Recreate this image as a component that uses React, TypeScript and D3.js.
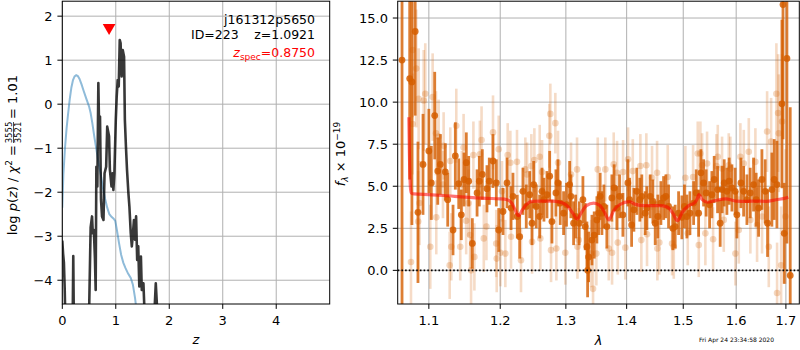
import React from 'react';
import * as d3 from 'd3';

// ---------- left panel: p(z) ----------
const blueZ = [0, 0.02, 0.05, 0.08, 0.11, 0.14, 0.17, 0.2, 0.23, 0.26, 0.29, 0.32, 0.36, 0.4, 0.45, 0.5, 0.53, 0.56, 0.6, 0.64, 0.68, 0.72, 0.76, 0.8, 0.84, 0.88, 0.92, 0.96, 0.99, 1.02, 1.06, 1.1, 1.14, 1.18, 1.23, 1.28, 1.32, 1.36, 1.4];
const blueLogP = [-2.35, -1.6, -1.0, -0.55, -0.2, 0.12, 0.38, 0.55, 0.63, 0.66, 0.64, 0.58, 0.45, 0.3, 0.12, -0.05, -0.2, -0.42, -0.75, -1.05, -1.35, -1.6, -1.9, -2.15, -2.35, -2.5, -2.56, -2.6, -2.65, -2.85, -3.15, -3.42, -3.6, -3.72, -3.85, -3.95, -4.1, -4.4, -4.8];

const blackZ = [0.0, 0.015, 0.03, 0.045, 0.055, 0.195, 0.205, 0.215, 0.5, 0.53, 0.556, 0.57, 0.59, 0.61, 0.624, 0.637, 0.655, 0.674, 0.69, 0.705, 0.724, 0.743, 0.77, 0.79, 0.82, 0.84, 0.874, 0.89, 0.92, 0.94, 0.955, 0.974, 1.0, 1.017, 1.036, 1.055, 1.074, 1.09, 1.11, 1.13, 1.155, 1.17, 1.19, 1.21, 1.236, 1.255, 1.28, 1.3, 1.317, 1.34, 1.36, 1.38, 1.4, 1.42, 1.44, 1.47, 1.486, 1.517, 1.54, 1.72, 1.748, 1.78];
const blackLogP = [-3.1, -3.4, -3.6, -4.2, -4.8, -4.8, -3.45, -4.8, -4.8, -2.8, -2.55, -2.93, -2.86, -3.5, -4.22, -1.42, -1.87, 0.48, -0.66, -0.28, -2.17, -2.55, -2.63, -1.57, -1.42, -0.51, -0.73, -1.49, -1.87, -1.57, -1.95, -1.57, -0.36, 0.17, 0.55, 0.4, 1.46, 1.39, 0.63, 1.23, 1.08, -0.36, -0.96, -1.49, -2.02, -2.33, -2.93, -3.23, -3.0, -2.63, -3.08, -2.55, -3.54, -3.23, -4.14, -3.46, -4.22, -4.07, -4.8, -4.8, -4.07, -4.8];

const zTicks = [0, 1, 2, 3, 4];
const logpTicks = [-4, -3, -2, -1, 0, 1, 2];
const zSpec = 0.875;
const zSpecMarker = 1.74;

// ---------- right panel: spectrum ----------
const darkWave = [1.0646, 1.0746, 1.0775, 1.0818, 1.0855, 1.0922, 1.1000, 1.1033, 1.1079, 1.1120, 1.1155, 1.1223, 1.1256, 1.1329, 1.1361, 1.1408, 1.1444, 1.1482, 1.1514, 1.1548, 1.1599, 1.1666, 1.1698, 1.1741, 1.1808, 1.1841, 1.1894, 1.1943, 1.1978,
  1.2041, 1.2100, 1.2159, 1.2188, 1.2252, 1.2288, 1.2337, 1.2387, 1.2439, 1.2474, 1.2500, 1.2539, 1.2591, 1.2627, 1.2657, 1.2704, 1.2746, 1.2781, 1.2843, 1.2875, 1.2911, 1.2964, 1.3010, 1.3060, 1.3080, 1.3123, 1.3156, 1.3213, 1.3273, 1.3310, 1.3338, 1.3349, 1.3365, 1.3420, 1.3457, 1.3501, 1.3529, 1.3555,
  1.3584, 1.3617, 1.3666, 1.3750, 1.3788, 1.3834, 1.3879, 1.3936, 1.4021, 1.4050, 1.4085, 1.4124, 1.4175, 1.4227, 1.4261, 1.4320, 1.4349, 1.4407, 1.4455, 1.4496, 1.4543, 1.4597, 1.4645, 1.4686, 1.4734, 1.4811, 1.4853, 1.4915, 1.4975, 1.5022, 1.5067, 1.5123, 1.5191, 1.5239,
  1.5284, 1.5327, 1.5377, 1.5425, 1.5490, 1.5533, 1.5577, 1.5641, 1.5691, 1.5730, 1.5768, 1.5820, 1.5864, 1.5917, 1.5980, 1.6014, 1.6093, 1.6146, 1.6211, 1.6276, 1.6343, 1.6395, 1.6443, 1.6510, 1.6576, 1.6624, 1.6712, 1.6759, 1.6815, 1.6918, 1.6940, 1.6965, 1.7021, 1.7090];
const darkFlux = [12.5, 11.4, 11.2, 14.2, 3.45, 6.3, 7.1, 5.2, 9.2, 5.9, 6.3, 5.85, 4.2, 2.4, 6.8, 5.15, 3.3, 5.4, 6.4, 5.3, 1.6, 4.6, 5.3, 5.7, 4.85, 5.3, 6.5, 5.2, 2.4,
  3.5, 5.2, 3.7, 4.4, 3.2, 2.0, 4.7, 3.8, 4.5, 2.8, 5.1, 3.8, 3.2, 4.7, 4.2, 4.5, 5.6, 2.9, 4.6, 5.2, 4.0, 3.4, 3.9, 5.1, 4.4, 2.8, 3.2, 2.8, 4.2, 2.6, 1.4, 0.0, 0.8, 1.8, 2.1, 3.0, 3.4, 4.4,
  3.4, 3.8, 2.6, 4.3, 4.9, 3.7, 4.4, 3.3, 5.2, 4.2, 2.7, 3.6, 4.7, 4.2, 4.4, 3.4, 3.7, 4.4, 4.1, 2.8, 3.2, 4.0, 4.3, 4.4, 3.8, 2.5, 2.6, 3.4, 3.15, 3.8, 3.2, 3.4, 4.0, 4.6,
  3.4, 5.8, 5.2, 4.6, 3.9, 4.5, 5.4, 4.8, 2.8, 4.8, 5.2, 4.7, 5.3, 4.9, 4.7, 3.3, 5.2, 4.7, 4.2, 4.6, 5.1, 4.2, 3.7, 5.4, 4.7, 2.8, 4.8, 5.4, 5.1, 9.9, 15.8, 2.2, 12.6, -0.3];
const darkErr = [16, 6, 8.5, 5, 4.2, 3.0, 2.5, 2.2, 2.6, 2.0, 1.8, 1.7, 1.6, 1.5, 2.0, 1.5, 1.5, 1.6, 1.8, 1.5, 1.5, 1.4, 1.5, 1.5, 1.4, 1.4, 1.6, 1.4, 1.3,
  1.4, 1.5, 1.3, 1.4, 1.3, 1.3, 1.4, 1.3, 1.4, 1.3, 1.4, 1.3, 1.3, 1.4, 1.3, 1.4, 1.5, 1.3, 1.4, 1.4, 1.3, 1.3, 1.3, 1.4, 1.3, 1.3, 1.3, 1.3, 1.4, 1.4, 1.5, 1.6, 1.5, 1.5, 1.4, 1.4, 1.3, 1.4,
  1.3, 1.3, 1.3, 1.4, 1.4, 1.3, 1.3, 1.3, 1.4, 1.3, 1.3, 1.3, 1.4, 1.3, 1.3, 1.3, 1.3, 1.3, 1.3, 1.3, 1.3, 1.3, 1.3, 1.3, 1.3, 1.3, 1.3, 1.3, 1.3, 1.3, 1.3, 1.3, 1.3, 1.4,
  1.4, 1.4, 1.4, 1.4, 1.4, 1.4, 1.4, 1.4, 1.4, 1.4, 1.4, 1.4, 1.4, 1.4, 1.4, 1.4, 1.5, 1.5, 1.5, 1.5, 1.6, 1.6, 1.7, 1.8, 1.9, 2.0, 2.2, 2.4, 2.6, 5.0, 8.0, 3.0, 11.0, 10.0];

const lightWave = [1.0763, 1.0783, 1.0786, 1.0832, 1.0858, 1.0864, 1.0875, 1.0931, 1.0952, 1.1019, 1.1051, 1.1096, 1.1100, 1.1132, 1.1191, 1.1200, 1.1283, 1.1291, 1.1305, 1.1374, 1.1429, 1.1452, 1.1476, 1.1512, 1.1545, 1.1567, 1.1581, 1.1614, 1.1628, 1.1706, 1.1730, 1.1762, 1.1800, 1.1895, 1.1942, 1.1949,
  1.1978, 1.2002, 1.2026, 1.2075, 1.2110, 1.2149, 1.2159, 1.2248, 1.2308, 1.2373, 1.2399, 1.2464, 1.2475, 1.2510, 1.2592, 1.2601, 1.2628, 1.2740, 1.2756, 1.2767, 1.2834, 1.2850, 1.2876, 1.2991, 1.3082, 1.3178, 1.3185, 1.3205, 1.3405, 1.3438, 1.3492, 1.3515,
  1.3641, 1.3698, 1.3753, 1.3781, 1.3837, 1.3849, 1.3939, 1.3978, 1.4024, 1.4105, 1.4236, 1.4253, 1.4340, 1.4352, 1.4440, 1.4529, 1.4534, 1.4569, 1.4719, 1.4797, 1.4828, 1.5039, 1.5083, 1.5181, 1.5268, 1.5287,
  1.5317, 1.5349, 1.5410, 1.5442, 1.5556, 1.5619, 1.5645, 1.5727, 1.5760, 1.5856, 1.5887, 1.5985, 1.6051, 1.6082, 1.6149, 1.6248, 1.6279, 1.6379, 1.6413, 1.6513, 1.6615, 1.6649, 1.6696, 1.6804, 1.6818, 1.6839, 1.6853, 1.6901, 1.6921, 1.6990];
const lightFlux = [0.5, 8.7, 13.1, 12.0, 2.9, 10.2, 4.0, 10.1, 10.5, 1.4, 10.3, 8.15, 3.15, 7.95, 5.1, 7.4, 0.3, 6.5, 1.4, 8.6, 1.4, 5.1, 7.3, 2.95, 4.0, 2.1, 0.0, 6.85, 0.8, 6.9, 7.75, 1.9, 2.6, 8.2, 1.6, 0.7,
  7.2, 1.05, 4.7, 1.0, 6.85, 6.4, 2.0, 6.45, 0.6, 6.0, 5.7, 6.2, 1.7, 6.55, 6.75, 1.9, 5.85, 8.0, 9.3, 1.2, 8.75, 1.3, 6.4, 1.05, 5.7, 6.0, 1.4, 1.8, 1.0, -1.1, 1.0, 6.0,
  6.0, 1.3, 1.05, 6.3, 5.8, 1.65, 5.85, 1.35, 6.6, 5.9, 6.2, 1.8, 6.25, 2.15, 5.5, 5.8, 1.3, 1.65, 5.55, 1.6, 1.4, 5.5, 2.2, 5.55, 6.95, 1.5,
  6.95, 6.25, 2.2, 6.35, 1.85, 6.2, 6.75, 6.05, 3.0, 6.25, 6.05, 1.0, 2.4, 6.75, 6.35, 7.05, 3.0, 6.45, 2.7, 3.2, 8.25, 1.4, 7.65, 10.5, -1.35, 9.35, 8.15, 0.3, 8.85, 3.2];
const lightErr = [3.0, 3.0, 4.0, 3.5, 3.0, 3.0, 2.5, 3.0, 3.0, 2.5, 2.6, 2.5, 2.2, 2.2, 2.0, 2.0, 2.0, 2.0, 2.0, 2.2, 2.0, 2.0, 2.0, 2.0, 2.0, 2.0, 2.0, 2.0, 2.0, 2.0, 2.0, 2.0, 2.0, 2.2, 2.0, 2.0,
  2.0, 2.0, 1.8, 2.0, 1.9, 1.9, 1.9, 1.9, 1.9, 1.9, 1.9, 1.9, 1.9, 1.9, 1.9, 1.9, 1.9, 1.9, 1.8, 1.9, 1.8, 1.9, 1.9, 1.9, 1.9, 1.9, 1.9, 1.9, 2.0, 1.9, 1.9, 1.9,
  1.9, 1.9, 1.9, 1.9, 1.9, 1.9, 1.9, 1.9, 1.9, 1.9, 1.9, 1.9, 1.9, 1.9, 1.9, 1.9, 1.9, 1.9, 1.9, 1.9, 1.9, 1.9, 1.9, 1.9, 1.9, 1.9,
  1.9, 1.9, 1.9, 1.9, 1.9, 1.9, 1.9, 1.9, 1.9, 1.9, 1.9, 1.9, 2.0, 2.0, 2.0, 2.0, 2.0, 2.0, 2.2, 2.2, 2.4, 2.4, 2.6, 3.0, 3.0, 3.5, 3.5, 3.5, 4.0, 4.0];

const modelWave = [1.0735, 1.0742, 1.0756, 1.0766, 1.08, 1.10, 1.12, 1.15, 1.18, 1.20, 1.21, 1.217, 1.222, 1.227, 1.233, 1.24, 1.248, 1.26, 1.28, 1.295, 1.303, 1.311, 1.318, 1.325, 1.333, 1.345, 1.355, 1.362, 1.37, 1.378, 1.388, 1.405, 1.415, 1.43, 1.46, 1.472, 1.481, 1.4895, 1.498, 1.51, 1.52, 1.525, 1.529, 1.535, 1.545, 1.56, 1.58, 1.60, 1.62, 1.64, 1.66, 1.68, 1.70, 1.705];
const modelFlux = [9.1, 7.0, 4.9, 4.6, 4.55, 4.5, 4.45, 4.35, 4.28, 4.25, 4.2, 4.0, 3.6, 3.25, 3.6, 3.95, 4.1, 4.12, 4.12, 4.0, 3.8, 3.4, 3.05, 3.45, 3.85, 4.0, 3.85, 3.5, 3.0, 3.55, 3.9, 4.08, 3.92, 3.85, 3.85, 3.75, 3.4, 2.95, 3.45, 3.85, 4.0, 4.2, 4.5, 4.2, 4.05, 4.15, 4.25, 4.12, 4.1, 4.12, 4.1, 4.2, 4.3, 4.35];

const waveTicks = [1.1, 1.2, 1.3, 1.4, 1.5, 1.6, 1.7];
const fluxTicks = [0, 2.5, 5, 7.5, 10, 12.5, 15];

const FONT = 'DejaVu Sans, sans-serif';
const GRID = '#b0b0b0';
const G141 = '#d55e00';
const minus = (s: string) => s.replace('-', '\u2212');

export default function App() {
  const L = { x0: 62.3, x1: 329.7, y0: 1.2, y1: 304 };
  const R = { x0: 397.7, x1: 799.3, y0: 1.2, y1: 304 };
  const zx = d3.scaleLinear().domain([0, 5]).range([L.x0, L.x1]);
  const ly = d3.scaleLinear().domain([-4.54, 2.34]).range([L.y1, L.y0]);
  const wx = d3.scaleLog().domain([1.059, 1.728]).range([R.x0, R.x1]);
  const fy = d3.scaleLinear().domain([-2, 16]).range([R.y1, R.y0]);

  const blueLine = d3.line<number>().x((_, i) => zx(blueZ[i])).y((d) => ly(d))(blueLogP) || '';
  const blackLine = d3.line<number>().x((_, i) => zx(blackZ[i])).y((d) => ly(d))(blackLogP) || '';
  const modelLine = d3.line<number>().x((_, i) => wx(modelWave[i])).y((d) => fy(d)).curve(d3.curveMonotoneX)(modelFlux) || '';
  const tri = d3.symbol().type(d3.symbolTriangle).size(70)() || '';

  const tickLen = 4.9;
  const tickFs = 13;

  return (
    <svg width={800} height={350} style={{ position: 'absolute', left: 0, top: 0, background: '#fff' }} fontFamily={FONT}>
      <defs>
        <clipPath id="clipL"><rect x={L.x0} y={L.y0} width={L.x1 - L.x0} height={L.y1 - L.y0} /></clipPath>
        <clipPath id="clipR"><rect x={R.x0} y={R.y0} width={R.x1 - R.x0} height={R.y1 - R.y0} /></clipPath>
      </defs>
      <rect x={0} y={0} width={800} height={350} fill="#fff" />

      {/* ---------- LEFT PANEL ---------- */}
      <g>
        {zTicks.map((t) => (
          <line key={'gzx' + t} x1={zx(t)} x2={zx(t)} y1={L.y0} y2={L.y1} stroke={GRID} strokeWidth={1} />
        ))}
        {logpTicks.map((t) => (
          <line key={'gly' + t} x1={L.x0} x2={L.x1} y1={ly(t)} y2={ly(t)} stroke={GRID} strokeWidth={1} />
        ))}
        <g clipPath="url(#clipL)">
          <path d={blueLine} fill="none" stroke="#1f77b4" strokeOpacity={0.5} strokeWidth={2} />
          <path d={blackLine} fill="none" stroke="#000" strokeOpacity={0.78} strokeWidth={2.6} strokeLinejoin="round" />
        </g>
        <path d={tri} transform={`translate(${zx(zSpec)},${ly(zSpecMarker)}) rotate(180)`} fill="red" />
        <rect x={L.x0} y={L.y0} width={L.x1 - L.x0} height={L.y1 - L.y0} fill="none" stroke="#000" strokeWidth={1} />
        {zTicks.map((t) => (
          <g key={'tzx' + t}>
            <line x1={zx(t)} x2={zx(t)} y1={L.y1} y2={L.y1 + tickLen} stroke="#000" />
            <text x={zx(t)} y={L.y1 + 21} fontSize={tickFs} textAnchor="middle">{t}</text>
          </g>
        ))}
        {logpTicks.map((t) => (
          <g key={'tly' + t}>
            <line x1={L.x0 - tickLen} x2={L.x0} y1={ly(t)} y2={ly(t)} stroke="#000" />
            <text x={L.x0 - 9.7} y={ly(t) + 4.7} fontSize={tickFs} textAnchor="end">{minus(String(t))}</text>
          </g>
        ))}
        <text x={(L.x0 + L.x1) / 2} y={344} fontSize={tickFs} textAnchor="middle" fontStyle="italic">z</text>
        <g transform="translate(16.5,154) rotate(-90)" fontSize={tickFs}>
          <text x={9} y={0} textAnchor="end">
            log <tspan fontStyle="italic">p</tspan>(<tspan fontStyle="italic">z</tspan>) / <tspan fontStyle="italic">χ</tspan>
            <tspan fontSize={9} dy={-5}>2</tspan><tspan dy={5}> =</tspan>
          </text>
          <text x={21.5} y={-4.2} fontSize={8.5} textAnchor="middle">3555</text>
          <line x1={11} x2={32} y1={-3} y2={-3} stroke="#000" strokeWidth={0.7} />
          <text x={21.5} y={4.6} fontSize={8.5} textAnchor="middle">3521</text>
          <text x={35} y={0} textAnchor="start">= 1.01</text>
        </g>
        <text x={315} y={24} fontSize={12.5} textAnchor="end">j161312p5650</text>
        <text x={191} y={38.5} fontSize={12.5} textAnchor="start">ID=223</text>
        <text x={315} y={38.5} fontSize={12.5} textAnchor="end">z=1.0921</text>
        <text x={315} y={57} fontSize={12.5} textAnchor="end" fill="red">
          <tspan fontStyle="italic">z</tspan><tspan fontSize={9} dy={2.5}>spec</tspan><tspan dy={-2.5}>=0.8750</tspan>
        </text>
      </g>

      {/* ---------- RIGHT PANEL ---------- */}
      <g>
        {waveTicks.map((t) => (
          <line key={'gwx' + t} x1={wx(t)} x2={wx(t)} y1={R.y0} y2={R.y1} stroke={GRID} strokeWidth={1} />
        ))}
        {fluxTicks.map((t) => (
          <line key={'gfy' + t} x1={R.x0} x2={R.x1} y1={fy(t)} y2={fy(t)} stroke={GRID} strokeWidth={1} />
        ))}
        <g clipPath="url(#clipR)">
          {lightWave.map((w, i) => (
            <line key={'lt' + i} x1={wx(w)} x2={wx(w)} y1={fy(lightFlux[i] - lightErr[i])} y2={fy(lightFlux[i] + lightErr[i])} stroke={G141} strokeWidth={2.6} opacity={0.22} />
          ))}
          {lightWave.map((w, i) => (
            <circle key={'lc' + i} cx={wx(w)} cy={fy(lightFlux[i])} r={3.3} fill={G141} opacity={0.25} />
          ))}
          {darkWave.map((w, i) => (
            <line key={'dt' + i} x1={wx(w)} x2={wx(w)} y1={fy(darkFlux[i] - darkErr[i])} y2={fy(darkFlux[i] + darkErr[i])} stroke={G141} strokeWidth={2.8} opacity={0.8} />
          ))}
          {darkWave.map((w, i) => (
            <circle key={'dc' + i} cx={wx(w)} cy={fy(darkFlux[i])} r={3.4} fill={G141} opacity={0.85} />
          ))}
          <path d={modelLine} fill="none" stroke="red" strokeOpacity={0.55} strokeWidth={3.2} strokeLinejoin="round" />
          <line x1={R.x0} x2={R.x1} y1={fy(0)} y2={fy(0)} stroke="#000" strokeWidth={1.6} strokeDasharray="1.6 2.1" />
        </g>
        <rect x={R.x0} y={R.y0} width={R.x1 - R.x0} height={R.y1 - R.y0} fill="none" stroke="#000" strokeWidth={1} />
        {waveTicks.map((t) => (
          <g key={'twx' + t}>
            <line x1={wx(t)} x2={wx(t)} y1={R.y1} y2={R.y1 + tickLen} stroke="#000" />
            <text x={wx(t)} y={R.y1 + 21} fontSize={tickFs} textAnchor="middle">{t.toFixed(1)}</text>
          </g>
        ))}
        {fluxTicks.map((t) => (
          <g key={'tfy' + t}>
            <line x1={R.x0 - tickLen} x2={R.x0} y1={fy(t)} y2={fy(t)} stroke="#000" />
            <text x={R.x0 - 9.7} y={fy(t) + 4.7} fontSize={tickFs} textAnchor="end">{t.toFixed(1)}</text>
          </g>
        ))}
        <text x={(R.x0 + R.x1) / 2} y={345} fontSize={tickFs} textAnchor="middle" fontStyle="italic">λ</text>
        <g transform="translate(345,154) rotate(-90)" fontSize={tickFs}>
          <text x={0} y={0} textAnchor="middle">
            <tspan fontStyle="italic">f</tspan><tspan fontSize={9} fontStyle="italic" dy={3}>λ</tspan>
            <tspan dy={-3}> × 10</tspan><tspan fontSize={9} dy={-5}>−19</tspan>
          </text>
        </g>
        <text x={699} y={342} fontSize={6} textAnchor="start">Fri Apr 24 23:34:58 2020</text>
      </g>
    </svg>
  );
}
